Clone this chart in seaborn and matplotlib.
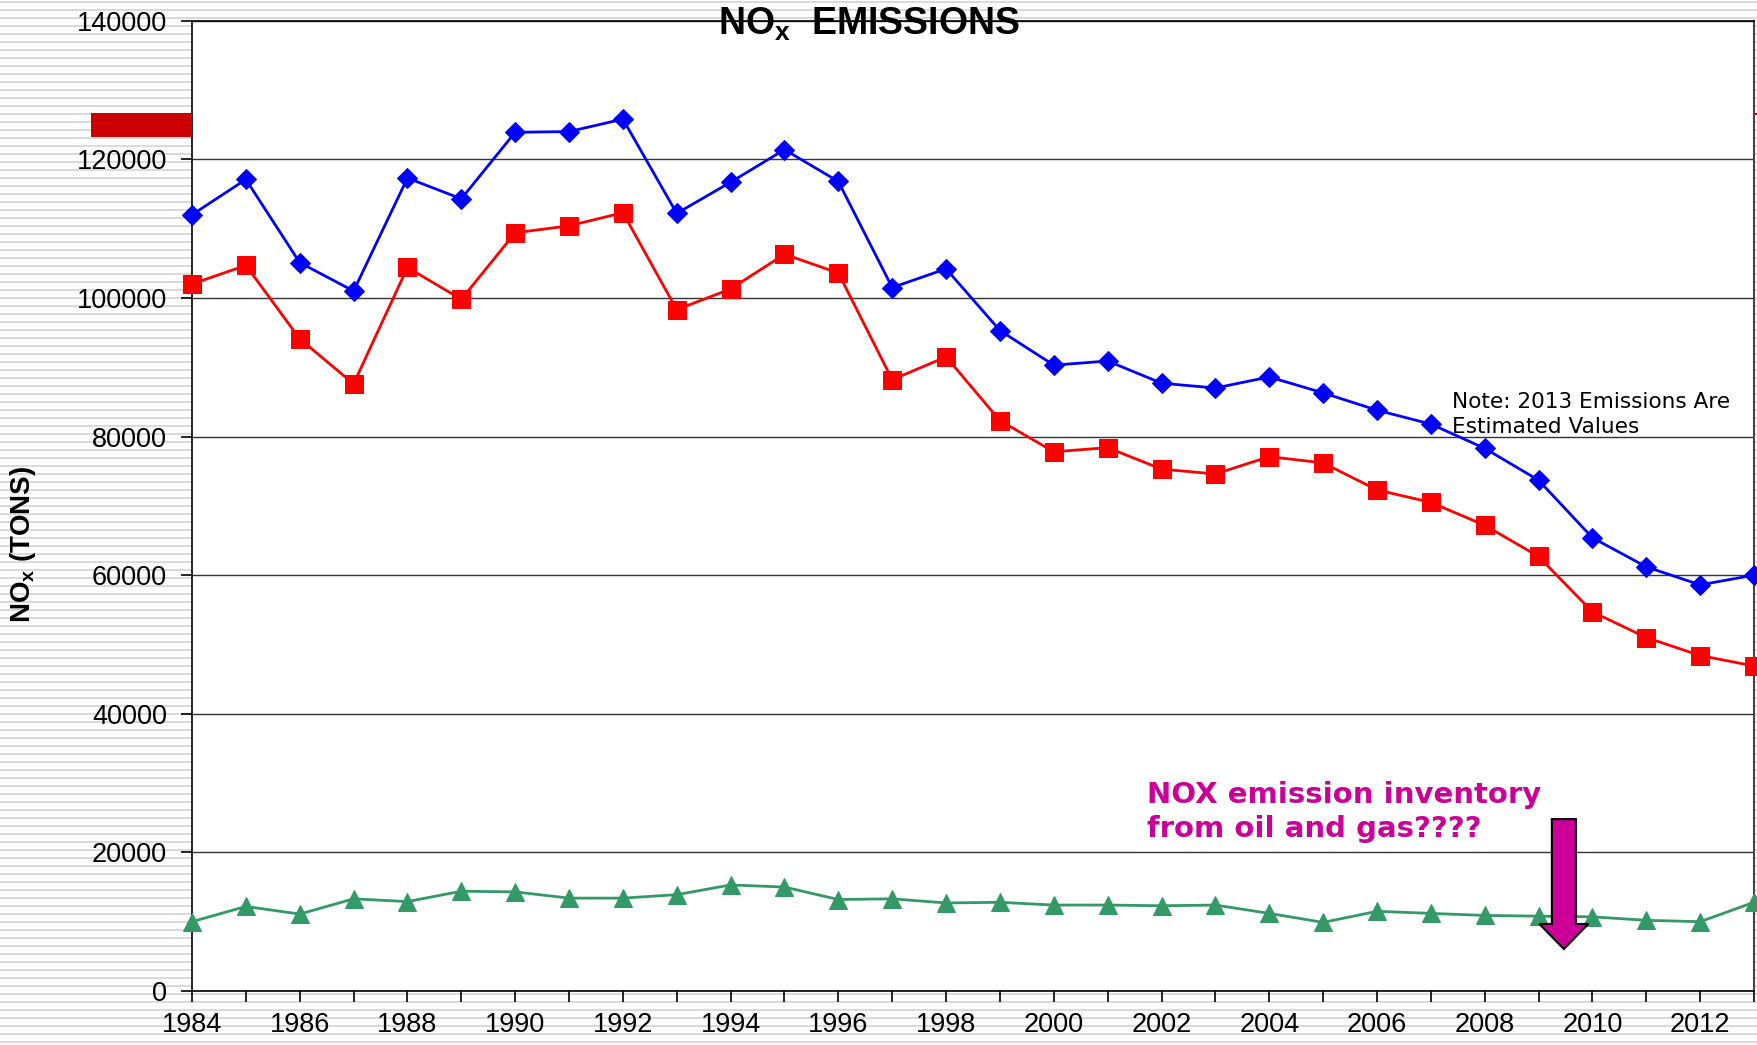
import numpy as np
import pandas as pd
import matplotlib
matplotlib.use("Agg")
import matplotlib.pyplot as plt
from matplotlib.patches import FancyArrow, Rectangle
import seaborn as sns

years = list(range(1984, 2014))
total_tons = [112000, 117100, 105100, 101000, 117300, 114300, 123900, 124000, 125800, 112200,
              116700, 121400, 116800, 101500, 104200, 95300, 90300, 90900, 87700, 87000,
              88600, 86300, 83800, 81800, 78300, 73700, 65400, 61200, 58600, 60000]
point_tons = [102000, 104700, 94100, 87600, 104400, 99800, 109400, 110400, 112300, 98300,
              101300, 106300, 103600, 88200, 91500, 82300, 77800, 78400, 75300, 74600,
              77100, 76200, 72300, 70500, 67200, 62700, 54700, 51000, 48400, 46900]
other_tons = [10000, 12200, 11100, 13300, 12900, 14400, 14300, 13400, 13400, 13900,
              15300, 15000, 13200, 13300, 12700, 12800, 12400, 12400, 12300, 12400,
              11200, 9900, 11500, 11200, 10900, 10800, 10700, 10200, 10000, 12800]
y_ticks = [0, 20000, 40000, 60000, 80000, 100000, 120000, 140000]

df = pd.DataFrame({"year": years, "total": total_tons, "point": point_tons, "other": other_tons})

W, H = 1758, 1045
fig = plt.figure(figsize=(W / 100, H / 100), dpi=100, facecolor="white")

# striped background
bg = fig.add_axes([0, 0, 1, 1])
bg.set_zorder(-5)
bg.set_xlim(0, 1)
bg.set_ylim(H, 0)
bg.hlines(np.arange(2, H, 8), 0, 1, color="#dadada", lw=1.44, antialiased=False)
bg.axis("off")

ax = fig.add_axes([192 / W, 1 - 991 / H, (1754 - 192) / W, (991 - 20.7) / H])
ax.set_facecolor("white")

sns.lineplot(data=df, x="year", y="total", ax=ax, color="#0000ff", marker="D", markersize=10,
             markeredgecolor="#0000ff", lw=2.0, clip_on=False, zorder=4)
sns.lineplot(data=df, x="year", y="point", ax=ax, color="#ff0000", marker="s", markersize=12.5,
             markeredgecolor="#ff0000", lw=2.0, clip_on=False, zorder=4)
sns.lineplot(data=df, x="year", y="other", ax=ax, color="#339966", marker="^", markersize=13,
             markeredgecolor="#339966", lw=2.0, clip_on=False, zorder=4)

ax.set_xlim(1984, 2013)
ax.set_ylim(0, 140000)
ax.set_xticks(years)
ax.set_xticklabels([str(y) if y % 2 == 0 else "" for y in years])
ax.set_yticks(y_ticks)
ax.set_yticklabels([str(v) for v in y_ticks])
ax.tick_params(axis="both", direction="out", length=8, width=1.2, color="black",
               labelsize=19.5, labelfontfamily="Liberation Sans")
ax.tick_params(axis="y", pad=10)
ax.tick_params(axis="x", pad=7)
ax.set_xlabel("")
ax.set_ylabel("")
ax.grid(axis="y", color="#333333", lw=1.0)
ax.set_axisbelow(True)
for s in ["left", "bottom", "top"]:
    ax.spines[s].set_color("black")
    ax.spines[s].set_linewidth(1.2)
ax.spines["right"].set_color("#444444")
ax.spines["right"].set_linewidth(1.5)

plt.rcParams["mathtext.fontset"] = "custom"
plt.rcParams["mathtext.bf"] = "Liberation Sans:bold"
plt.rcParams["mathtext.rm"] = "Liberation Sans"

fig.text(869 / W, 1 - 35 / H, r"$\mathbf{NO_x}$  EMISSIONS", ha="center", va="baseline",
         fontsize=27, fontweight="bold", family="Liberation Sans")
fig.text(23 / W, 1 - 544 / H, r"$\mathbf{NO_x}$ (TONS)", rotation=90, ha="center", va="center",
         fontsize=20, fontweight="bold", family="Liberation Sans")

fig.text(1452 / W, 1 - 392 / H, "Note: 2013 Emissions Are\nEstimated Values", ha="left", va="top",
         fontsize=15.6, family="DejaVu Sans", linespacing=1.3)
# baseline of the last line
fig.text(1147 / W, 1 - 837 / H, "NOX emission inventory\nfrom oil and gas????", ha="left",
         va="baseline", fontsize=21, fontweight="bold", color="#cc0099", family="DejaVu Sans",
         linespacing=1.26)
arrow = FancyArrow(2009.47, 24800, 0, -18740, width=0.446, head_width=0.91, head_length=3610,
                   length_includes_head=True, facecolor="#cc0099", edgecolor="black", lw=1.5,
                   zorder=6, clip_on=False)
ax.add_patch(arrow)

# red marker bar at top left and small tick at right edge
fig.add_artist(Rectangle((91 / W, 1 - 137 / H), 101 / W, 24 / H, transform=fig.transFigure,
                         facecolor="#cc0000", edgecolor="none"))
fig.add_artist(Rectangle((1754 / W, 1 - 115 / H), 4 / W, 2 / H, transform=fig.transFigure,
                         facecolor="#cc0000", edgecolor="none"))

fig.savefig("out.png", dpi=100)
